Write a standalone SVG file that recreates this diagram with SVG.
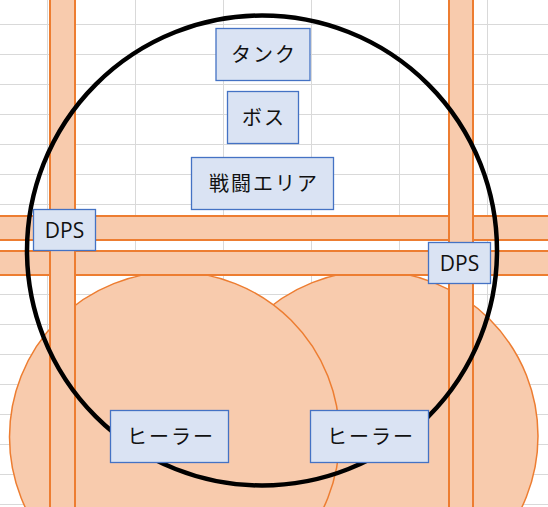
<svg xmlns="http://www.w3.org/2000/svg" width="548" height="507" viewBox="0 0 548 507">
<style>
.grid{stroke:#D9D9D9;stroke-width:1;fill:none}
.zone{fill:#F8CBAD;stroke:#ED7D31;stroke-width:1.5}
.band{fill:#F8CBAD;stroke:#ED7D31;stroke-width:2}
.box{fill:#DAE3F3;stroke:#4472C4;stroke-width:1.3}
.lbl{font-family:"Noto Sans CJK JP","Noto Sans",sans-serif;font-size:20px;fill:#111;text-anchor:middle;letter-spacing:2px}
.lat{font-family:"Open Sans","Noto Sans",sans-serif;font-size:21px;fill:#111;text-anchor:middle}
</style>
<rect width="548" height="507" fill="#FFFFFF"/>
<g id="grid">
<path class="grid" d="M47.5 0V507M135.5 0V507M223.5 0V507M311.5 0V507M399.5 0V507M487.5 0V507"/>
<path class="grid" d="M0 24.5H548M0 54.5H548M0 84.5H548M0 114.5H548M0 144.5H548M0 174.5H548M0 204.5H548M0 234.5H548M0 264.5H548M0 294.5H548M0 324.5H548M0 354.5H548M0 384.5H548M0 414.5H548M0 444.5H548M0 474.5H548M0 504.5H548"/>
</g>
<g id="zones">
<circle class="zone" cx="373" cy="436" r="165"/>
<circle class="zone" cx="174.5" cy="437" r="165"/>
</g>
<g id="bands">
<rect class="band" x="-5" y="216" width="560" height="24"/>
<rect class="band" x="-5" y="251" width="560" height="24"/>
<rect class="band" x="50" y="-5" width="25" height="520"/>
<rect class="band" x="449" y="-5" width="24" height="520"/>
</g>
<g id="connectors">
<circle cx="262" cy="250.5" r="235" fill="none" stroke="#000" stroke-width="4.5"/>
</g>
<g id="tank"><rect class="box" x="216" y="28.5" width="94" height="52"/><text class="lbl" x="264" y="61.5">タンク</text></g>
<g id="boss"><rect class="box" x="227.5" y="91.5" width="71" height="52"/><text class="lbl" x="264" y="124.5">ボス</text></g>
<g id="area"><rect class="box" x="191.5" y="157.5" width="142" height="52"/><text class="lbl" x="264" y="190.5">戦闘エリア</text></g>
<g id="dps-left"><rect class="box" x="33.5" y="209.5" width="62" height="41"/><text class="lat" x="64.5" y="237.5">DPS</text></g>
<g id="dps-right"><rect class="box" x="428.5" y="242.5" width="62" height="41"/><text class="lat" x="459.5" y="270.5">DPS</text></g>
<g id="healer-left"><rect class="box" x="110.5" y="410.5" width="118" height="52"/><text class="lbl" x="171" y="443.5">ヒーラー</text></g>
<g id="healer-right"><rect class="box" x="310.5" y="410.5" width="118" height="52"/><text class="lbl" x="371" y="443.5">ヒーラー</text></g>
</svg>
